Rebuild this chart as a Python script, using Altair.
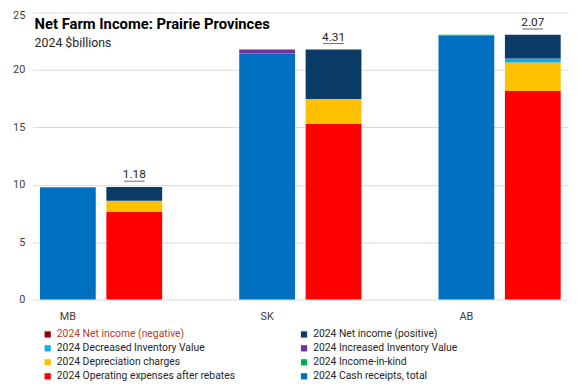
import altair as alt
import pandas as pd

provinces = ["MB", "SK", "AB"]
cash_receipts = [9.74, 21.40, 23.02]
income_in_kind = [0.06, 0.04, 0.05]
increased_inventory = [0.0, 0.34, 0.0]
operating_expenses = [7.65, 15.33, 18.17]
depreciation = [0.97, 2.15, 2.49]
decreased_inventory = [0.0, 0.0, 0.34]
net_income_positive = [1.18, 4.31, 2.07]
net_income_negative = [0.0, 0.0, 0.0]

NEG = "2024 Net income (negative)"
POS = "2024 Net income (positive)"
DEC = "2024 Decreased Inventory Value"
INC = "2024 Increased Inventory Value"
DEP = "2024 Depreciation charges"
KIND = "2024 Income-in-kind"
OPEX = "2024 Operating expenses after rebates"
CASH = "2024 Cash receipts, total"

# legend is filled column by column: left column first, then right column
legend_order = [NEG, DEC, DEP, OPEX, POS, INC, KIND, CASH]
legend_colors = ["#9B0000", "#16ACE6", "#FFC000", "#FF0000",
                 "#0B3C68", "#7030A0", "#00B050", "#0070C0"]

slots = ["MB", "MB exp", "gap1", "SK", "SK exp", "gap2", "AB", "AB exp"]

rows = []
for i, p in enumerate(provinces):
    rows += [
        dict(slot=p, series=CASH, value=cash_receipts[i], stack=0),
        dict(slot=p, series=KIND, value=income_in_kind[i], stack=1),
        dict(slot=p, series=INC, value=increased_inventory[i], stack=2),
        dict(slot=p + " exp", series=OPEX, value=operating_expenses[i], stack=0),
        dict(slot=p + " exp", series=DEP, value=depreciation[i], stack=1),
        dict(slot=p + " exp", series=DEC, value=decreased_inventory[i], stack=2),
        dict(slot=p + " exp", series=POS, value=net_income_positive[i], stack=3),
        dict(slot=p + " exp", series=NEG, value=net_income_negative[i], stack=4),
    ]
df = pd.DataFrame(rows)

tot = pd.DataFrame({
    "slot": [p + " exp" for p in provinces],
    "total": [operating_expenses[i] + depreciation[i] + decreased_inventory[i] + net_income_positive[i]
              for i in range(3)],
    "label": [f"{v:.2f}" for v in net_income_positive],
})

FONT = "Roboto"
xscale = alt.Scale(domain=slots, paddingInner=0.16, paddingOuter=0.11)
yscale = alt.Scale(domain=[0, 25], nice=False)

bars = alt.Chart(df).mark_bar().encode(
    x=alt.X("slot:N", scale=xscale,
            axis=alt.Axis(title=None, labelAngle=0, ticks=False, domain=False,
                          labelExpr="indexof(['MB','SK','AB'], datum.value) >= 0 ? datum.value : ''",
                          labelPadding=11, labelFontSize=11, labelColor="#404040", labelFont=FONT)),
    y=alt.Y("value:Q", stack="zero", scale=yscale,
            axis=alt.Axis(title=None, values=[0, 5, 10, 15, 20, 25], ticks=False, domain=False,
                          gridColor="#d9d9d9", labelPadding=8, labelFontSize=11,
                          labelOffset=alt.condition("datum.value == 25", alt.value(3), alt.value(0)),
                          labelColor="#404040", labelFont=FONT)),
    color=alt.Color("series:N", scale=alt.Scale(domain=legend_order, range=legend_colors),
                    legend=alt.Legend(title=None, orient="none", legendX=10, legendY=321,
                                      columns=2, columnPadding=64, rowPadding=3.2,
                                      symbolType="square", symbolSize=40, symbolStrokeWidth=0,
                                      labelFontSize=10.5, labelFont=FONT, labelOffset=4,
                                      labelColor=alt.ExprRef("datum.label == '2024 Net income (negative)' ? '#C0392B' : '#262626'"),
                                      gridAlign="all", labelLimit=300)),
    order=alt.Order("stack:Q"),
)

labels = alt.Chart(tot).mark_text(baseline="alphabetic", dy=-9, fontSize=12, font=FONT, color="#262626").encode(
    x=alt.X("slot:N", scale=xscale), y=alt.Y("total:Q", scale=yscale), text="label:N")
underline = alt.Chart(tot).mark_tick(orient="horizontal", size=21, thickness=1, color="#262626", yOffset=-6).encode(
    x=alt.X("slot:N", scale=xscale), y=alt.Y("total:Q", scale=yscale))

title = alt.Chart(pd.DataFrame({"t": ["Net Farm Income: Prairie Provinces"]})).mark_text(
    align="left", baseline="alphabetic", fontSize=15, fontWeight="bold", font=FONT, color="#000000"
).encode(text="t:N", x=alt.value(2), y=alt.value(17))
subtitle = alt.Chart(pd.DataFrame({"t": ["2024 $billions"]})).mark_text(
    align="left", baseline="alphabetic", fontSize=12.5, font=FONT, color="#262626"
).encode(text="t:N", x=alt.value(2), y=alt.value(35))

chart = alt.layer(bars, labels, underline, title, subtitle).properties(
    width=543, height=291,
    autosize=alt.AutoSizeParams(type="none"),
    padding={"left": 25, "top": 2, "right": 1, "bottom": 90},
).configure_view(stroke=None)

chart.save("out.html", embed_options={"renderer": "svg", "actions": False})
